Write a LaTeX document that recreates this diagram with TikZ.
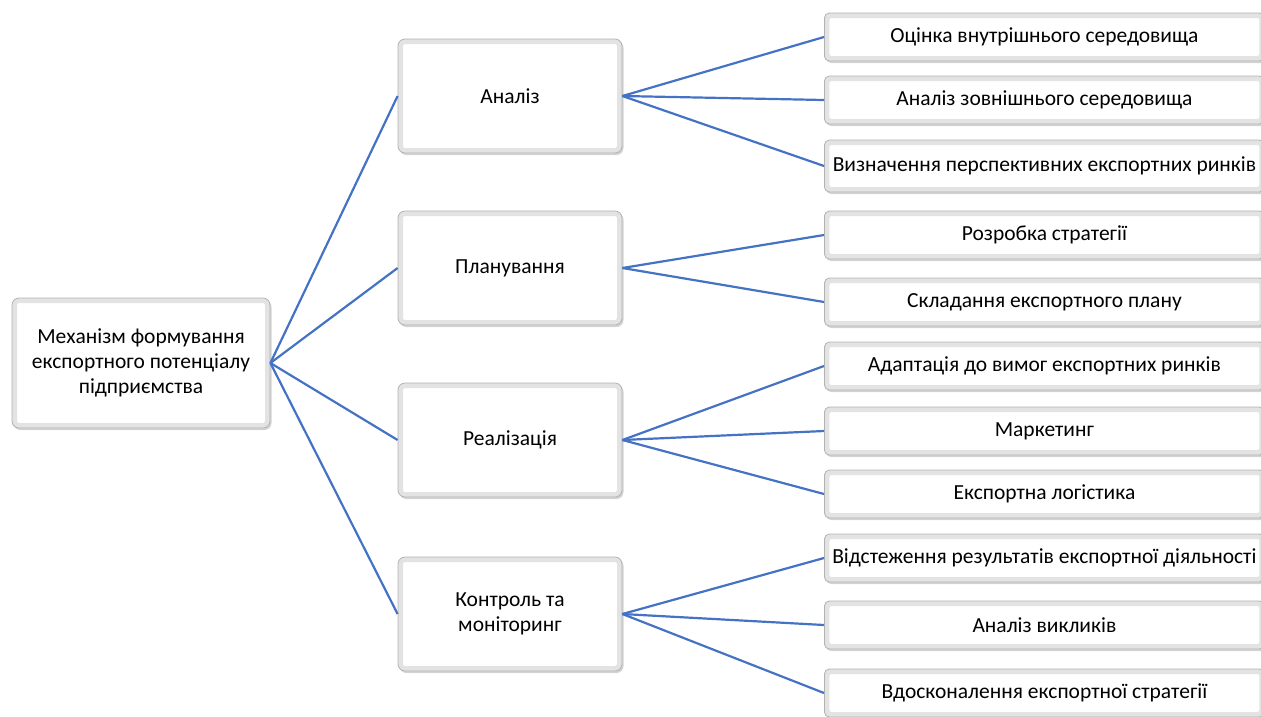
\documentclass[tikz,border=0pt]{standalone}
\usepackage{fontspec}
\setmainfont{Carlito}
\usetikzlibrary{positioning,shadows}

\begin{document}
\begin{tikzpicture}[
        x=1pt,y=-1pt,
        bevel/.style={
          draw=gray!60,
          fill=white,
          rounded corners=7pt,
          line width=0.8pt,
          drop shadow={shadow xshift=1.5pt,shadow yshift=-2pt,opacity=0.35},
          path picture={
            \draw[gray!22,line width=10pt,rounded corners=7pt]
              (path picture bounding box.south west) rectangle (path picture bounding box.north east);
            },
          align=center,
          font=\fontsize{21.5}{25}\selectfont
          },
        root/.style={bevel,minimum width=258pt,minimum height=130pt},
        stage/.style={bevel,minimum width=224pt,minimum height=114pt},
        task/.style={bevel,minimum width=440pt,minimum height=48pt,anchor=west,
          rounded corners=5pt},
        link/.style={draw={rgb,255:red,68;green,114;blue,196},line width=2.2pt}
        ]
        \useasboundingbox (0,0) rectangle (1261,716);
        \node[root] (mech) at (141,363) {Механізм формування\\експортного потенціалу\\підприємства};
        % stages
        \node[stage] (s1) at (510,96) {Аналіз};
        \node[stage] (s2) at (510,268) {Планування};
        \node[stage] (s3) at (510,440) {Реалізація};
        \node[stage] (s4) at (510,614) {Контроль та\\моніторинг};
        % tasks
        \node[task] (t1) at (824,37) {Оцінка внутрішнього середовища};
        \node[task] (t2) at (824,100) {Аналіз зовнішнього середовища};
        \node[task,minimum height=52pt] (t3) at (824,166) {Визначення перспективних експортних ринків};
        \node[task] (t4) at (824,235) {Розробка стратегії};
        \node[task] (t5) at (824,302) {Складання експортного плану};
        \node[task] (t6) at (824,366) {Адаптація до вимог експортних ринків};
        \node[task] (t7) at (824,431) {Маркетинг};
        \node[task] (t8) at (824,494) {Експортна логістика};
        \node[task] (t9) at (824,558) {Відстеження результатів експортної діяльності};
        \node[task] (t10) at (824,625) {Аналіз викликів};
        \node[task] (t11) at (824,693) {Вдосконалення експортної стратегії};
        \begin{scope}[on background layer/.try]
        \foreach \s in {1,...,4}
          \draw[link] (mech.east) -- (s\s.west);
        \foreach \t in {1,2,3}
          \draw[link] (s1.east) -- (t\t.west);
        \foreach \t in {4,5}
          \draw[link] (s2.east) -- (t\t.west);
        \foreach \t in {6,7,8}
          \draw[link] (s3.east) -- (t\t.west);
        \foreach \t in {9,10,11}
          \draw[link] (s4.east) -- (t\t.west);
        \end{scope}
\end{tikzpicture}
\end{document}
